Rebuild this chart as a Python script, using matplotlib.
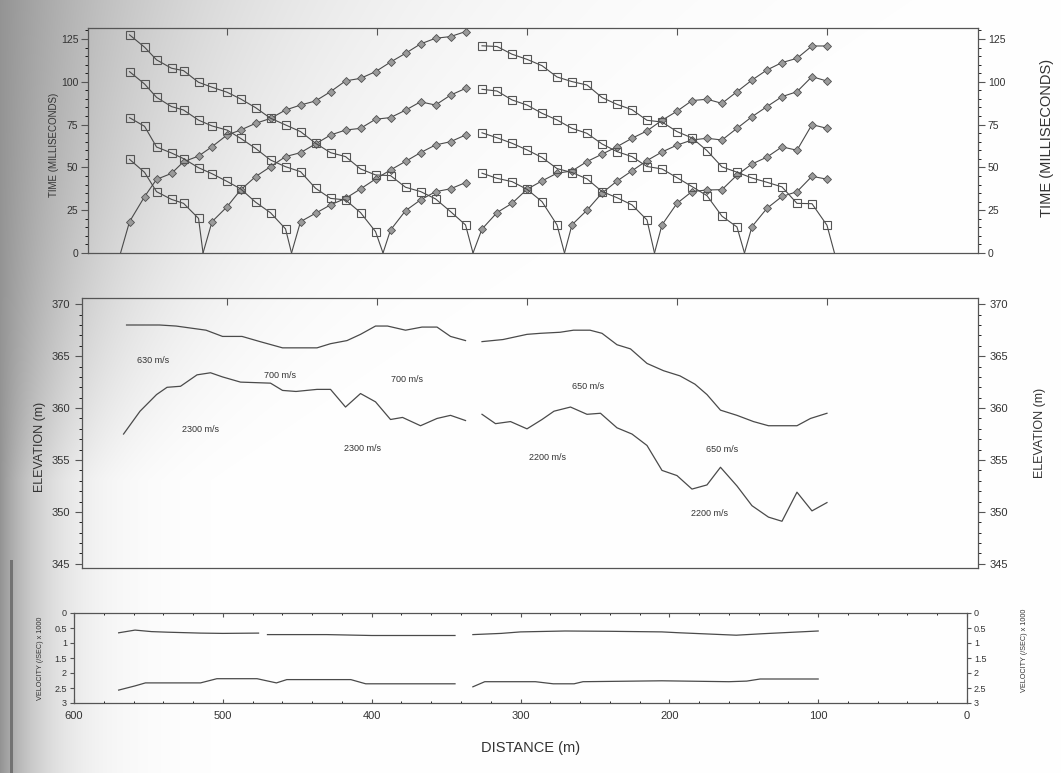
import numpy as np
import matplotlib.pyplot as plt
from matplotlib.ticker import MultipleLocator

plt.rcParams['font.family'] = ['Liberation Sans', 'DejaVu Sans']

# geophone positions (m) of the two spreads
spread1_x = [565, 555, 547, 537, 529, 519, 510, 500, 491, 481, 471, 461,
             451, 441, 431, 421, 411, 401, 391, 381, 371, 361, 351, 341]
spread2_x = [330, 320, 310, 300, 290, 280, 270, 260, 250, 240, 230, 220,
             210, 200, 190, 180, 170, 160, 150, 140, 130, 120, 110, 100]

# first break times (ms), spread 1
fwd571 = [18.3, 32.9, 43.0, 46.5, 53.3, 56.6, 62.1, 68.9, 71.8, 75.7, 78.6, 83.5,
          86.4, 88.8, 94.2, 100.5, 102.0, 105.9, 111.5, 116.6, 122.1, 125.4, 126.4, 129.3]
fwd516 = [18.3, 27.0, 36.8, 44.6, 50.4, 56.3, 58.6, 63.7, 68.9, 71.8, 72.8, 78.1,
          79.1, 83.4, 88.3, 86.4, 92.2, 96.1]
fwd457 = [18.3, 23.2, 28.1, 31.9, 37.4, 43.2, 48.5, 53.5, 58.6, 63.1, 65.0, 68.9]
fwd396 = [13.4, 24.7, 31.0, 35.8, 37.5, 41.1]
rev336 = [127.4, 120.2, 112.8, 107.9, 106.5, 99.7, 96.8, 93.9, 90.0, 84.9, 78.7, 74.8,
          70.9, 64.1, 58.6, 56.3, 49.1, 45.6, 45.2, 38.4, 35.9, 31.6, 24.2, 16.4]
rev396 = [105.9, 98.7, 90.9, 85.5, 83.5, 77.6, 74.2, 71.8, 67.0, 61.1, 54.3, 50.4,
          47.5, 37.8, 31.9, 31.0, 23.6, 12.5]
rev457 = [79.0, 74.0, 61.9, 58.4, 55.1, 49.8, 46.3, 41.8, 37.5, 29.7, 23.5, 14.1]
rev516 = [54.7, 47.1, 35.8, 31.3, 29.0, 20.2]

# first break times (ms), spread 2
fwd336 = [14.0, 23.6, 29.0, 37.2, 42.1, 46.6, 47.9, 53.4, 57.7, 62.1, 67.0, 71.3,
          77.5, 82.8, 89.0, 89.8, 87.4, 94.2, 101.0, 106.9, 111.2, 113.7, 120.9, 120.9]
fwd275 = [16.5, 25.0, 35.0, 42.0, 48.0, 54.0, 59.0, 63.0, 66.0, 67.0, 66.0, 72.8,
          79.6, 85.5, 91.3, 94.2, 103.0, 100.4]
fwd215 = [16.4, 29.0, 35.9, 36.8, 37.0, 45.5, 52.0, 56.0, 62.0, 60.0, 75.0, 72.8]
fwd155 = [15.4, 26.1, 33.0, 35.8, 44.8, 43.1]
rev95 = [121.0, 120.6, 116.1, 113.1, 109.4, 102.8, 100.1, 98.1, 90.8, 86.8, 83.7, 77.5,
         76.5, 70.9, 67.2, 59.8, 50.3, 47.2, 43.8, 41.3, 38.6, 29.0, 28.8, 16.2]
rev155 = [95.6, 94.6, 89.4, 86.4, 81.6, 77.7, 72.8, 69.9, 63.7, 59.2, 56.3, 50.5,
          49.1, 44.0, 38.8, 33.5, 21.5, 15.2]
rev215 = [70.2, 67.3, 64.1, 60.2, 55.8, 49.3, 47.0, 43.3, 35.9, 32.3, 28.1, 19.3]
rev275 = [46.6, 43.6, 41.7, 37.2, 30.0, 16.4]

# elevation profiles (m)
surf1_x = [567, 545, 534, 514, 503, 490, 478, 463, 440, 431, 420, 411, 401, 393, 381, 370, 360, 351, 341]
surf1_y = [368.0, 368.0, 367.9, 367.5, 366.9, 366.9, 366.4, 365.8, 365.8, 366.2, 366.5, 367.1,
           367.9, 367.9, 367.5, 367.8, 367.8, 366.9, 366.5]
ref1_x = [569, 558, 547, 540, 531, 520, 511, 503, 491, 471, 463, 454, 440, 431, 421, 411,
          401, 391, 383, 371, 360, 351, 341]
ref1_y = [357.5, 359.7, 361.3, 362.0, 362.1, 363.2, 363.4, 363.0, 362.5, 362.4, 361.7, 361.6,
          361.8, 361.8, 360.1, 361.4, 360.6, 358.9, 359.1, 358.3, 359.0, 359.3, 358.8]
surf2_x = [330, 316, 300, 291, 278, 269, 258, 250, 240, 231, 220, 209, 198, 188, 180, 171,
           160, 149, 139, 120, 111, 100]
surf2_y = [366.4, 366.6, 367.1, 367.2, 367.3, 367.5, 367.5, 367.2, 366.1, 365.7, 364.3, 363.6,
           363.1, 362.3, 361.3, 359.8, 359.3, 358.7, 358.3, 358.3, 359.0, 359.5]
ref2_x = [330, 321, 311, 300, 290, 282, 271, 260, 251, 240, 230, 220, 210, 200, 190, 180,
          171, 160, 150, 139, 130, 120, 110, 100]
ref2_y = [359.4, 358.5, 358.7, 358.0, 358.9, 359.7, 360.1, 359.4, 359.5, 358.1, 357.5, 356.4,
          354.0, 353.5, 352.2, 352.6, 354.3, 352.5, 350.6, 349.5, 349.1, 351.9, 350.1, 350.9]

layer_labels = ['630 m/s', '700 m/s', '700 m/s', '2300 m/s', '2300 m/s', '2200 m/s',
                '650 m/s', '650 m/s', '2200 m/s']
label_x = [549, 465, 380, 518, 410, 286, 259, 170, 178]
label_y = [364.6, 363.1, 362.8, 357.9, 356.1, 355.2, 362.1, 356.0, 349.8]

# layer velocities (x 1000 m/s)
vel1_x = [570, 559, 548, 537, 515, 500, 476, np.nan, 470, 430, 400, 370, 344]
vel1_y = [0.66, 0.57, 0.62, 0.64, 0.67, 0.68, 0.67, np.nan, 0.72, 0.72, 0.75, 0.75, 0.75]
vel1b_x = [332, 313, 300, 270, 240, 205, 193, 155, 137, 100]
vel1b_y = [0.72, 0.68, 0.63, 0.60, 0.61, 0.63, 0.66, 0.74, 0.69, 0.60]
vel2_x = [570, 559, 552, 515, 504, 477, 464, 457, 414, 404, 344]
vel2_y = [2.57, 2.43, 2.33, 2.33, 2.19, 2.19, 2.33, 2.22, 2.22, 2.36, 2.36]
vel2b_x = [332, 324, 304, 290, 278, 264, 258, 205, 160, 148, 139, 100]
vel2b_y = [2.46, 2.29, 2.29, 2.29, 2.36, 2.36, 2.29, 2.26, 2.29, 2.27, 2.20, 2.20]

LINE = '#4a4a4a'
TXT = '#333333'

fig = plt.figure(figsize=(10.61, 7.73), dpi=100)

# scanned-page shading on the left edge
bg = fig.add_axes([0, 0, 1, 1])
H, W = 773, 1061
xx = np.arange(W)[None, :]
yy = np.arange(H)[:, None]
wid = 45 + 150 * np.clip(1 - yy / 480.0, 0, 1)
img = 1 - 0.42 * np.exp(-xx / wid)
img[560:, 10:13] = 0.45
bg.imshow(np.dstack([img] * 3), aspect='auto', extent=[0, 1, 0, 1], vmin=0, vmax=1)
bg.set_axis_off()


def px_axes(l, t, r, b):
    return fig.add_axes([l / W, 1 - b / H, (r - l) / W, (b - t) / H], facecolor='none')


def frame(ax):
    for s in ax.spines.values():
        s.set_color('#555555')
        s.set_linewidth(0.9)
    ax.tick_params(colors='#555555', labelcolor=TXT)


# ---- travel time panel
ax1 = px_axes(88, 28, 978, 253)
frame(ax1)
curves = [
    (571, spread1_x, fwd571, 'D'), (516, spread1_x[6:], fwd516, 'D'),
    (457, spread1_x[12:], fwd457, 'D'), (396, spread1_x[18:], fwd396, 'D'),
    (336, spread1_x, rev336, 's'), (396, spread1_x[:18], rev396, 's'),
    (457, spread1_x[:12], rev457, 's'), (516, spread1_x[:6], rev516, 's'),
    (336, spread2_x, fwd336, 'D'), (275, spread2_x[6:], fwd275, 'D'),
    (215, spread2_x[12:], fwd215, 'D'), (155, spread2_x[18:], fwd155, 'D'),
    (95, spread2_x, rev95, 's'), (155, spread2_x[:18], rev155, 's'),
    (215, spread2_x[:12], rev215, 's'), (275, spread2_x[:6], rev275, 's'),
]
for shot, gx, t, mk in curves:
    xs = list(gx) + [shot]
    ts = list(t) + [0]
    order = np.argsort(xs)
    ax1.plot(np.array(xs)[order], np.array(ts)[order], color=LINE, lw=0.8)
    if mk == 's':
        ax1.plot(gx, t, ls='none', marker='s', ms=6, mfc='none', mec='#555555', mew=0.8)
    else:
        ax1.plot(gx, t, ls='none', marker='D', ms=3.6, mfc='#9a9a9a', mec='#505050', mew=0.6)
ax1.set_xlim(592.7, -0.7)
ax1.set_ylim(0, 131.4)
ax1.set_yticks([0, 25, 50, 75, 100, 125])
ax1.yaxis.set_minor_locator(MultipleLocator(5))
ax1.set_xticks([500, 400, 300, 200, 100])
ax1.tick_params(axis='x', which='both', top=True, bottom=False, labelbottom=False,
                direction='in', length=5)
ax1.tick_params(axis='y', which='both', left=True, right=True, labelleft=True,
                labelright=True, labelsize=7.5)
ax1.tick_params(axis='y', which='major', length=5, pad=2)
ax1.tick_params(axis='y', which='minor', length=2.5)

# ---- elevation panel
ax2 = px_axes(82, 298, 978, 568)
frame(ax2)
for xs, ys in [(surf1_x, surf1_y), (ref1_x, ref1_y), (surf2_x, surf2_y), (ref2_x, ref2_y)]:
    ax2.plot(xs, ys, color=LINE, lw=0.9)
for s, x, y in zip(layer_labels, label_x, label_y):
    ax2.text(x, y, s, fontsize=6.5, color=TXT, ha='center', va='center')
ax2.set_xlim(596.7, -0.7)
ax2.set_ylim(344.6, 370.6)
ax2.set_yticks([345, 350, 355, 360, 365, 370])
ax2.yaxis.set_minor_locator(MultipleLocator(1))
ax2.set_xticks([500, 400, 300, 200, 100])
ax2.tick_params(axis='x', which='both', top=True, bottom=False, labelbottom=False,
                direction='in', length=5)
ax2.tick_params(axis='y', which='both', left=True, right=True, labelleft=True,
                labelright=True, labelsize=8)
ax2.tick_params(axis='y', which='major', length=5)
ax2.tick_params(axis='y', which='minor', length=2.5)

# ---- velocity panel
ax3 = px_axes(74, 613, 967, 703)
frame(ax3)
for xs, ys in [(vel1_x, vel1_y), (vel1b_x, vel1b_y), (vel2_x, vel2_y), (vel2b_x, vel2b_y)]:
    ax3.plot(xs, ys, color=LINE, lw=0.9)
ax3.set_xlim(600, 0)
ax3.set_ylim(3, 0)
ax3.set_yticks([0, 0.5, 1, 1.5, 2, 2.5, 3])
ax3.set_yticklabels(['0', '0.5', '1', '1.5', '2', '2.5', '3'])
ax3.set_xticks([600, 500, 400, 300, 200, 100, 0])
ax3.xaxis.set_minor_locator(MultipleLocator(20))
ax3.tick_params(axis='x', which='both', top=True, bottom=True, direction='in',
                labelsize=8, pad=6)
ax3.tick_params(axis='x', which='major', length=3)
ax3.tick_params(axis='x', which='minor', length=1.5)
ax3.tick_params(axis='y', left=True, right=True, labelleft=True, labelright=True,
                labelsize=6.5, length=3, pad=2)

# ---- axis titles
fig.text(54 / W, 1 - 145 / H, 'TIME (MILLISECONDS)', rotation=90, fontsize=7,
         color=TXT, ha='center', va='center')
fig.text(1047 / W, 1 - 138 / H, 'TIME (MILLISECONDS)', rotation=90, fontsize=10.5,
         color=TXT, ha='center', va='center')
fig.text(40 / W, 1 - 447 / H, 'ELEVATION (m)', rotation=90, fontsize=9,
         color=TXT, ha='center', va='center')
fig.text(1040 / W, 1 - 433 / H, 'ELEVATION (m)', rotation=90, fontsize=9,
         color=TXT, ha='center', va='center')
fig.text(40 / W, 1 - 658 / H, 'VELOCITY (/SEC) x 1000', rotation=90, fontsize=5.2,
         color=TXT, ha='center', va='center')
fig.text(1025 / W, 1 - 650 / H, 'VELOCITY (/SEC) x 1000', rotation=90, fontsize=5.2,
         color=TXT, ha='center', va='center')
fig.text(531 / W, 1 - 748 / H, 'DISTANCE (m)', fontsize=10.5, color=TXT,
         ha='center', va='center')

fig.savefig('out.png', dpi=100)
